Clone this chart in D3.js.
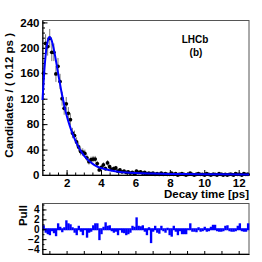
<!DOCTYPE html>
<html>
<head>
<meta charset="utf-8">
<script src="https://cdn.jsdelivr.net/npm/d3@7"></script>
<style>
  body { margin: 0; background: #fff; }
  svg { display: block; }
  text { font-family: "Liberation Sans", Arial, sans-serif; font-weight: bold; fill: #000; }
</style>
</head>
<body>
<svg id="chart" width="262" height="262"></svg>
<script>
// Histogram binning: 100 bins of 0.12 ps between 0.6 and 12.6 ps
const timeRange = [0.6, 12.6];
const nBins = 100;

// Candidates per bin
const counts = [
  160, 207, 202, 215, 193, 193, 159, 171, 147, 120,
  105, 112, 97, 87, 66, 62, 52, 44, 37, 36,
  34, 27, 21, 24, 25, 25, 18, 8, 12, 16,
  10, 19, 13, 9, 10, 11, 6, 8, 5, 6,
  4, 5, 3, 4, 2, 6, 4, 5, 3, 4,
  2, 3, 2, 3, 1, 2, 1, 3, 1, 2,
  1, 1, 3, 1, 2, 0, 1, 2, 1, 0,
  1, 3, 1, 0, 1, 2, 1, 1, 0, 2,
  1, 0, 1, 1, 0, 2, 1, 0, 1, 0,
  1, 1, 0, 2, 1, 1, 0, 2, 1, 1
];

// Fit curve samples: decay time [ps] and candidates
const fitTime = [0.6, 0.7, 0.8, 0.9, 1.0, 1.1, 1.2, 1.3, 1.4, 1.5, 1.6, 1.7, 1.8, 1.9, 2.0,
                 2.2, 2.4, 2.6, 2.8, 3.0, 3.2, 3.4, 3.6, 3.8, 4.0, 4.5, 5.0, 5.5, 6.0,
                 7.0, 8.0, 9.0, 10.0, 11.0, 12.6];
const fitValue = [118, 162, 193, 210, 217, 214, 205, 192, 177, 161, 146, 131, 118, 105, 94,
                  76, 61, 49, 39, 31, 25, 20, 16, 13, 11, 7.5, 5.2, 3.8, 3.0,
                  2.2, 1.7, 1.4, 1.2, 1.0, 0.8];

// Pull per bin
const pulls = [
  0.6, -0.5, -0.8, -1.0, -0.2, -0.6, -1.2, 1.0, 0.3, -0.4,
  0.2, 1.6, 1.0, 0.8, 0.2, -0.5, -1.0, 0.5, -0.3, -1.0,
  0.0, -1.5, -0.5, -0.3, 0.6, 1.0, 1.0, -2.0, -0.8, 0.3,
  1.2, 0.5, 0.6, -0.2, -0.5, -0.3, -1.0, 0.0, -0.5, -0.6,
  -1.0, -0.8, -0.5, 0.5, 0.3, 2.2, 0.5, 0.4, 0.6, -0.3,
  -1.0, 0.2, -2.6, -0.3, 0.5, -0.5, -0.7, 0.5, -0.2, -0.5,
  0.1, -1.0, -1.3, 0.5, -0.3, -1.0, -0.2, -0.8, -0.8, -0.8,
  0.0, 1.0, -0.3, -0.3, -0.4, 0.2, -0.3, -0.2, 0.3, -0.3,
  -0.2, 0.3, 0.7, 0.7, -0.2, -0.3, -0.3, -0.2, 0.5, 0.6,
  -0.2, -0.3, -0.3, -0.2, 0.5, 1.0, -0.2, -0.3, -0.3, 1.0
];

const yTicks = [0, 40, 80, 120, 160, 200, 240];
const xTicks = [2, 4, 6, 8, 10, 12];
const pullTicks = [-4, -2, 0, 2, 4];

const frame = { left: 42.5, right: 249, top: 20.5, bottom: 175 };
const pullFrame = { top: 203.5, bottom: 254 };
const blue = '#0000ff';

const svg = d3.select('#chart');
const binW = (timeRange[1] - timeRange[0]) / nBins;
const data = counts.map((n, i) => ({
  lo: timeRange[0] + i * binW,
  t: timeRange[0] + (i + 0.5) * binW,
  n: n,
  e: Math.sqrt(Math.max(n, 1)),
  p: pulls[i]
}));

const x = d3.scaleLinear(timeRange, [frame.left, frame.right]);
const y = d3.scaleLinear([0, 243], [frame.bottom, frame.top]);
const yp = d3.scaleLinear([-5, 5.2], [pullFrame.bottom, pullFrame.top]);

function styleAxis(g, size) {
  g.attr('font-family', null).attr('font-size', size);
  g.selectAll('text').attr('font-weight', 'bold');
  g.selectAll('line').attr('stroke', '#000');
}

// ---------- main pad ----------
let main = svg.append('g').attr('class', 'main');

main.append('rect')
    .attr('x', frame.left).attr('y', frame.top)
    .attr('width', frame.right - frame.left)
    .attr('height', frame.bottom - frame.top)
    .attr('fill', 'none').attr('stroke', '#555').attr('stroke-width', 1);

// minor ticks
main.append('g')
    .attr('transform', `translate(${frame.left},0)`)
    .call(d3.axisLeft(y).tickValues(d3.range(0, 244, 8)).tickSize(-2.5).tickFormat(''))
    .call(g => g.select('.domain').remove());
main.append('g')
    .attr('transform', `translate(0,${frame.bottom})`)
    .call(d3.axisBottom(x).tickValues(d3.range(1, 12.6, 0.5)).tickSize(-2.5).tickFormat(''))
    .call(g => g.select('.domain').remove());

main.append('g')
    .attr('class', 'axis y-axis')
    .attr('transform', `translate(${frame.left},0)`)
    .call(d3.axisLeft(y).tickValues(yTicks).tickSize(-5).tickPadding(3).tickSizeOuter(0))
    .call(g => styleAxis(g, 11.5));

main.append('g')
    .attr('class', 'axis x-axis')
    .attr('transform', `translate(0,${frame.bottom})`)
    .call(d3.axisBottom(x).tickValues(xTicks).tickSize(-5).tickPadding(4).tickSizeOuter(0))
    .call(g => styleAxis(g, 11.5));

// error bars
main.append('g')
    .selectAll('line')
    .data(data)
    .join('line')
    .attr('x1', d => x(d.t)).attr('x2', d => x(d.t))
    .attr('y1', d => y(Math.max(d.n - d.e, 0)))
    .attr('y2', d => y(d.n + d.e))
    .attr('stroke', '#555').attr('stroke-width', 0.8);

// points
main.append('g')
    .selectAll('circle')
    .data(data)
    .join('circle')
    .attr('cx', d => x(d.t))
    .attr('cy', d => y(d.n))
    .attr('r', 1.9)
    .attr('fill', '#000');

// fit curve
const line = d3.line()
    .x((d, i) => x(fitTime[i]))
    .y(d => y(d))
    .curve(d3.curveMonotoneX);
main.append('path')
    .attr('d', line(fitValue))
    .attr('fill', 'none')
    .attr('stroke', blue)
    .attr('stroke-width', 2);

// labels
main.append('text')
    .attr('transform', 'translate(13,33) rotate(-90)')
    .attr('text-anchor', 'end')
    .attr('font-size', 11.5)
    .text('Candidates / ( 0.12 ps )');

main.append('text')
    .attr('x', frame.right).attr('y', 198)
    .attr('text-anchor', 'end')
    .attr('font-size', 11.5)
    .text('Decay time [ps]');

main.append('text')
    .attr('x', 195).attr('y', 43)
    .attr('text-anchor', 'middle')
    .attr('font-size', 10)
    .text('LHCb');
main.append('text')
    .attr('x', 196).attr('y', 56)
    .attr('text-anchor', 'middle')
    .attr('font-size', 10)
    .text('(b)');

// ---------- pull pad ----------
let pull = svg.append('g').attr('class', 'pull');

pull.append('rect')
    .attr('x', frame.left).attr('y', pullFrame.top)
    .attr('width', frame.right - frame.left)
    .attr('height', pullFrame.bottom - pullFrame.top)
    .attr('fill', 'none').attr('stroke', '#555').attr('stroke-width', 1);

pull.append('g')
    .selectAll('rect')
    .data(data)
    .join('rect')
    .attr('x', d => x(d.lo))
    .attr('width', x(timeRange[0] + binW) - x(timeRange[0]) + 0.3)
    .attr('y', d => Math.min(yp(0), yp(d.p)) - 1)
    .attr('height', d => Math.abs(yp(d.p) - yp(0)) + 2)
    .attr('fill', blue);

pull.append('g')
    .attr('transform', `translate(${frame.left},0)`)
    .call(d3.axisLeft(yp).tickValues(d3.range(-5, 5.1, 1)).tickSize(-2).tickFormat(''))
    .call(g => g.select('.domain').remove());

pull.append('g')
    .attr('transform', `translate(${frame.left},0)`)
    .call(d3.axisLeft(yp).tickValues(pullTicks).tickSize(-4).tickPadding(3).tickSizeOuter(0))
    .call(g => styleAxis(g, 10));

pull.append('g')
    .attr('transform', `translate(0,${pullFrame.bottom})`)
    .call(d3.axisBottom(x).tickValues(d3.range(1, 13, 1)).tickSize(-3).tickFormat('').tickSizeOuter(0))
    .call(g => styleAxis(g, 9));

pull.append('text')
    .attr('transform', 'translate(27,205) rotate(-90)')
    .attr('text-anchor', 'end')
    .attr('font-size', 11.5)
    .text('Pull');
</script>
</body>
</html>
